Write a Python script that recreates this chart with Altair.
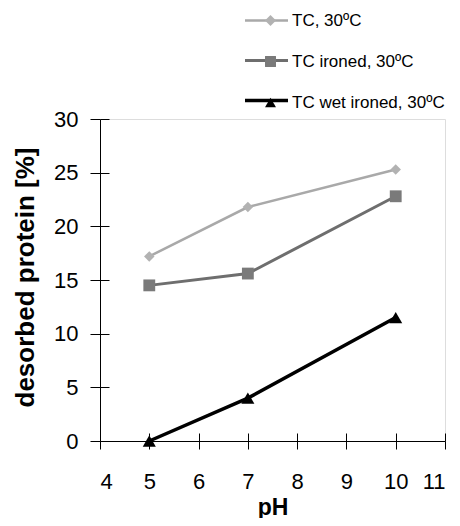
import altair as alt
import pandas as pd

# ---- data ----
ph = [5, 7, 10]
tc = [17.2, 21.8, 25.3]
tc_ironed = [14.5, 15.6, 22.8]
tc_wet_ironed = [0.0, 4.0, 11.5]
series_names = ["TC, 30ºC", "TC ironed, 30ºC", "TC wet ironed, 30ºC"]
x_ticks = [4, 5, 6, 7, 8, 9, 10, 11]
y_ticks = [0, 5, 10, 15, 20, 25, 30]

rows = []
for name, vals in zip(series_names, [tc, tc_ironed, tc_wet_ironed]):
    for p, v in zip(ph, vals):
        rows.append({"series": name, "pH": p, "protein": v})
df = pd.DataFrame(rows)
legend_df = pd.DataFrame({"series": series_names})

# ---- styles ----
FONT = "Liberation Sans, Arial, sans-serif"
line_colors = ["#a9a9a9", "#6e6e6e", "#000000"]
marker_colors = ["#b2b2b2", "#7a7a7a", "#000000"]
line_widths = [2, 2.5, 3.5]
shapes = ["diamond", "square", "triangle-up"]
marker_sizes = [130, 110, 170]

# scales of channels without a legend use the reversed order so that they
# are not merged with the shown legend
rev_names = series_names[::-1]

legend = alt.Legend(
    title=None,
    orient="none",
    legendX=162,
    legendY=-107,
    padding=0,
    symbolSize=120,
    symbolStrokeWidth=0,
    labelOffset=13,
    rowPadding=23,
    labelFont=FONT,
    labelFontSize=17,
    labelColor="#000",
    labelLimit=300,
)

x_scale = alt.Scale(domain=[4, 11], nice=False, zero=False)
y_scale = alt.Scale(domain=[0, 30], nice=False)

axis_common = dict(
    grid=False,
    domainColor="#000",
    tickColor="#000",
    labelColor="#000",
    titleColor="#000",
    labelFont=FONT,
    titleFont=FONT,
    labelFontSize=22,
    titleFontWeight="bold",
)

x_outer = alt.Axis(
    values=x_ticks, orient="bottom", tickSize=8, labelPadding=22,
    title="pH", titleFontSize=23, titleBaseline="alphabetic", titleY=73,
    **axis_common,
)
y_outer = alt.Axis(
    values=y_ticks, orient="left", tickSize=10, labelPadding=12,
    title="desorbed protein [%]", titleFontSize=26, titleBaseline="alphabetic",
    titleX=-67, titleY=158, titleAngle=270, titleAlign="center",
    **axis_common,
)
x_inner = alt.Axis(
    values=x_ticks, orient="bottom", offset=-8, tickSize=8, labels=False,
    domain=False, title="", grid=False, tickColor="#000",
)
y_inner = alt.Axis(
    values=y_ticks, orient="left", offset=-9, tickSize=9, labels=False,
    domain=False, title="", grid=False, tickColor="#000",
)

stroke_enc = alt.Stroke("series:N", scale=alt.Scale(domain=rev_names, range=line_colors[::-1]), legend=None)
width_enc = alt.StrokeWidth("series:N", scale=alt.Scale(domain=rev_names, range=line_widths[::-1]), legend=None)

lines = alt.Chart(df).mark_line().encode(
    x=alt.X("pH:Q", scale=x_scale, axis=x_outer),
    y=alt.Y("protein:Q", scale=y_scale, axis=y_outer),
    stroke=stroke_enc,
    strokeWidth=width_enc,
)

points = alt.Chart(df).mark_point(filled=True, opacity=1).encode(
    x=alt.X("pH:Q", scale=x_scale, axis=x_inner),
    y=alt.Y("protein:Q", scale=y_scale, axis=y_inner),
    color=alt.Color("series:N", scale=alt.Scale(domain=series_names, range=marker_colors), legend=legend),
    shape=alt.Shape("series:N", scale=alt.Scale(domain=series_names, range=shapes), legend=legend),
    size=alt.Size("series:N", scale=alt.Scale(domain=rev_names, range=marker_sizes[::-1]), legend=None),
)

# short line segments behind the legend symbols (Excel-style legend keys)
legend_keys = alt.Chart(legend_df).mark_rule().encode(
    x=alt.value(145),
    x2=alt.value(188),
    y=alt.Y(
        "series:N",
        scale=alt.Scale(type="point", domain=series_names, range=[-98.5, -18.5], padding=0),
        axis=None,
    ),
    stroke=stroke_enc,
    strokeWidth=width_enc,
)

chart = (
    alt.layer(lines, points, legend_keys)
    .resolve_axis(x="independent", y="independent")
    .resolve_scale(y="independent")
    .properties(
        width=345,
        height=322,
        autosize=alt.AutoSizeParams(type="none"),
        padding={"left": 92, "top": 111, "right": 7, "bottom": 77},
    )
    .configure_view(stroke="#000", strokeWidth=1)
    .configure(background="white")
)

chart.save("out.html", embed_options={"renderer": "svg", "actions": False})
